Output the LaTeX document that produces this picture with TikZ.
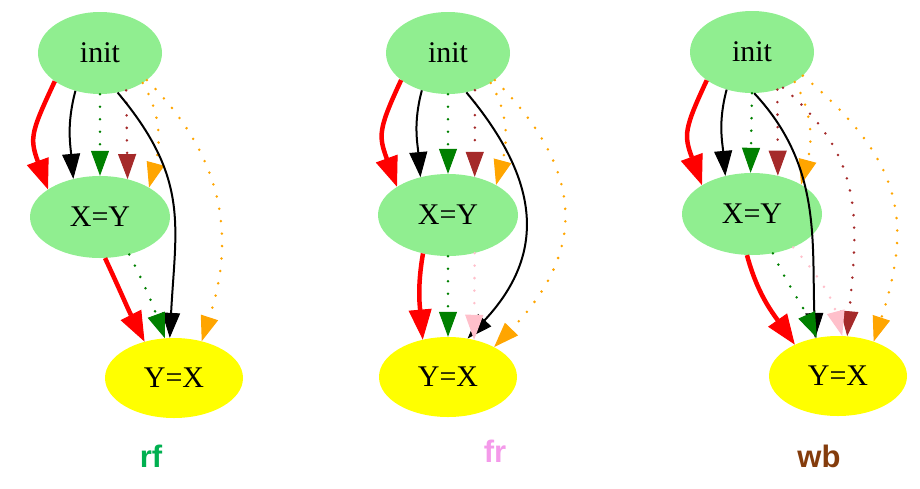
\documentclass[tikz,border=0pt]{standalone}
\usepackage{fontspec}
\setmainfont{Liberation Serif}
\newfontfamily\labelfont{Liberation Sans}
\usetikzlibrary{arrows.meta, shapes.geometric}

\definecolor{nodegreen}{HTML}{90EE90}
\definecolor{gvgreen}{HTML}{008000}
\definecolor{gvbrown}{HTML}{A52A2A}
\definecolor{gvorange}{HTML}{FFA500}
\definecolor{gvpink}{HTML}{FFC0CB}
\definecolor{gvyellow}{HTML}{FFFF00}
\definecolor{rfcolor}{HTML}{00B050}
\definecolor{frcolor}{HTML}{F49AEA}
\definecolor{wbcolor}{HTML}{843C0C}

\begin{document}
\begin{tikzpicture}[x = 1pt, y = 1pt,
    state/.style = {ellipse, fill = nodegreen, inner sep = 0pt, minimum width = 124pt, minimum height = 82pt, font = \fontsize{30}{32}\selectfont},
    wide/.style = {minimum width = 140pt},
    goal/.style = {fill = gvyellow, minimum width = 138pt, minimum height = 80pt},
    >= {Triangle[length = 25pt, width = 18pt, line width = 1pt]},
    heavy/.style = {red, line width = 4.5pt, -{Triangle[length = 30pt, width = 23pt, line width = 1pt]}},
    plain/.style = {black, line width = 2pt, ->},
    dots/.style = {line width = 2.8pt, line cap = round, dash pattern = on 0pt off 12.5pt, ->},
    caption/.style = {anchor = base, inner sep = 0pt, font = \labelfont\bfseries\fontsize{31}{33}\selectfont}]
  \useasboundingbox (0,0) rectangle (920,-488);

  % rf
  \node[state] (init1) at (100,-53) {init};
  \node[state, wide] (xy1) at (100,-217) {X=Y};
  \node[state, goal] (yx1) at (174,-378) {Y=X};
  \path (init1.212) edge[heavy, out = 245, in = 110, looseness = 1.3] (xy1.152)
        (init1.237) edge[plain, out = 255, in = 95] (xy1.125)
        (init1.270) edge[dots, gvgreen] (xy1.90)
        (init1.305) edge[dots, gvbrown] (xy1.54)
        (init1.325) edge[dots, gvorange, out = 300, in = 75] (xy1.31)
        (init1.330) edge[dots, gvorange, out = 315, in = 72, looseness = 1.05] (yx1.53)
        (init1.294) edge[plain, out = 310, in = 87, looseness = 1.15] (yx1.96)
        (xy1.277) edge[heavy, out = 295, in = 117] (yx1.129)
        (xy1.308) edge[dots, gvgreen, out = 297, in = 110] (yx1.103);
  \node[caption, text = rfcolor] (rf) at (151,-467) {rf};

  % fr
  \node[state] (init2) at (448,-53) {init};
  \node[state, wide] (xy2) at (448,-215) {X=Y};
  \node[state, goal] (yx2) at (448,-377) {Y=X};
  \path (init2.210) edge[heavy, out = 245, in = 110, looseness = 1.3] (xy2.151)
        (init2.235) edge[plain, out = 255, in = 95] (xy2.126)
        (init2.270) edge[dots, gvgreen] (xy2.90)
        (init2.306) edge[dots, gvbrown] (xy2.55)
        (init2.325) edge[dots, gvorange, out = 300, in = 75] (xy2.32)
        (init2.295) edge[plain, out = 310, in = 47, looseness = 1.2] (yx2.63)
        (init2.330) edge[dots, gvorange, out = 315, in = 46, looseness = 1.25] (yx2.33)
        (xy2.237) edge[heavy, out = 260, in = 95] (yx2.124)
        (xy2.270) edge[dots, gvgreen] (yx2.90)
        (xy2.305) edge[dots, gvpink] (yx2.55);
  \node[caption, text = frcolor] (fr) at (495,-462) {fr};

  % wb
  \node[state] (init3) at (752,-52) {init};
  \node[state, wide] (xy3) at (752,-214) {X=Y};
  \node[state, goal] (yx3) at (838,-376) {Y=X};
  \path (init3.212) edge[heavy, out = 245, in = 110, looseness = 1.3] (xy3.150)
        (init3.236) edge[plain, out = 255, in = 95] (xy3.125)
        (init3.270) edge[dots, gvgreen] (xy3.92)
        (init3.304) edge[dots, gvbrown] (xy3.56)
        (init3.325) edge[dots, gvorange, out = 300, in = 75] (xy3.31)
        (init3.273) edge[plain, out = 313, in = 92] (yx3.121)
        (init3.311) edge[dots, gvbrown, out = 320, in = 85, looseness = 1.1] (yx3.77)
        (init3.335) edge[dots, gvorange, out = 320, in = 72, looseness = 1.2] (yx3.44)
        (xy3.263) edge[heavy, out = 285, in = 125] (yx3.144)
        (xy3.298) edge[dots, gvgreen, out = 295, in = 114] (yx3.119)
        (xy3.321) edge[dots, gvpink, out = 312, in = 105] (yx3.84);
  \node[caption, text = wbcolor] (wb) at (819,-467) {wb};
\end{tikzpicture}
\end{document}
